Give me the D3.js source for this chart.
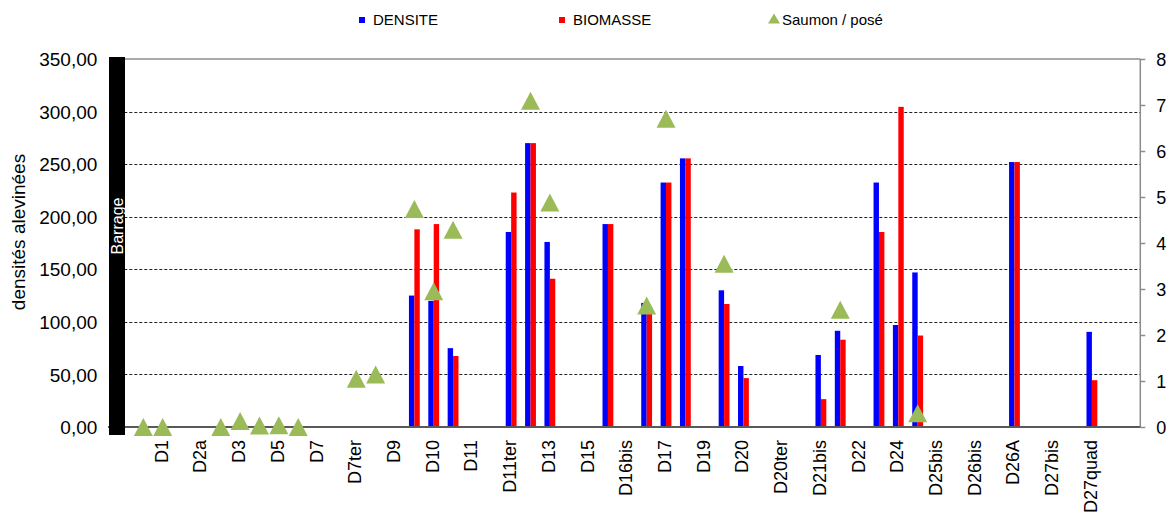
<!DOCTYPE html>
<html>
<head>
<meta charset="utf-8">
<script src="https://cdn.jsdelivr.net/npm/d3@7"></script>
<style>
  body { margin: 0; background: #fff; }
  text { font-family: "Liberation Sans", Arial, sans-serif; fill: #000; }
</style>
</head>
<body>
<div id="chart"></div>
<script>
// stations (every other one carries a label on the axis)
var categories = ["", "", "D1", "", "D2a", "", "D3", "", "D5", "", "D7", "", "D7ter", "", "D9", "",
  "D10", "", "D11", "", "D11ter", "", "D13", "", "D15", "", "D16bis", "", "D17", "", "D19", "",
  "D20", "", "D20ter", "", "D21bis", "", "D22", "", "D24", "", "D25bis", "", "D26bis", "",
  "D26A", "", "D27bis", "", "D27quad", "", ""];

var densite = [
  null, null, null, null, null, null, null, null, null, null,
  null, null, null, null, null, 125, 120, 75, null, null,
  185.5, 270, 176, null, null, 193, null, 118, 232.5, 255.5,
  null, 130, 58, null, null, null, 68.5, 91.5, null, 232.5,
  97, 147, null, null, null, null, 252, null, null, null,
  90.5, null, null];

var biomasse = [
  null, null, null, null, null, null, null, null, null, null,
  null, null, null, null, null, 188, 193, 67.5, null, null,
  223, 270, 141, null, null, 193, null, 113, 232.5, 255.5,
  null, 117, 46.5, null, null, null, 26.5, 83, null, 185.5,
  304.5, 87, null, null, null, null, 252, null, null, null,
  44.5, null, null];

var saumon = [
  null, 0, 0, null, null, 0, 0.13, 0.03, 0.04, 0,
  null, null, 1.05, 1.14, null, 4.74, 2.95, 4.29, null, null,
  null, 7.09, 4.88, null, null, null, null, 2.64, 6.70, null,
  null, 3.55, null, null, null, null, null, 2.55, null, null,
  null, 0.30, null, null, null, null, null, null, null, null,
  null, null, null];

var leftTicks = [0, 50, 100, 150, 200, 250, 300, 350];
var rightTicks = [0, 1, 2, 3, 4, 5, 6, 7, 8];
var seriesNames = ["DENSITE", "BIOMASSE", "Saumon / posé"];
var seriesColors = ["#0000ff", "#ff0000", "#9bbb59"];

var width = 1173,
    height = 521;

var svg = d3.select('#chart').append('svg')
    .attr('width', width)
    .attr('height', height);

var plotLeft = 114.3, plotRight = 1140.3, plotTop = 59, plotBottom = 427;

var x = d3.scaleBand()
    .domain(d3.range(categories.length))
    .range([plotLeft, plotRight])
    .paddingInner(0.44)
    .paddingOuter(0.22);

var xs = d3.scaleBand()
    .domain([0, 1])
    .range([0, x.bandwidth()]);

var y = d3.scaleLinear().domain([0, 350]).range([plotBottom, plotTop]);
var y2 = d3.scaleLinear().domain([0, 8]).range([plotBottom, plotTop]);

// gridlines
svg.append('g')
    .selectAll('line')
    .data(leftTicks.filter(function(d) { return d > 0 && d < 350; }))
    .enter().append('line')
    .attr('x1', plotLeft).attr('x2', plotRight)
    .attr('y1', function(d) { return Math.round(y(d)) + 0.5; })
    .attr('y2', function(d) { return Math.round(y(d)) + 0.5; })
    .style('stroke', '#222')
    .style('stroke-width', 1)
    .style('stroke-dasharray', '3,2');

// top border
svg.append('line')
    .attr('x1', plotLeft).attr('x2', plotRight)
    .attr('y1', y(350)).attr('y2', y(350))
    .style('stroke', '#8c8c8c')
    .style('stroke-width', 1.5);

// left axis (labels only)
var yAxis = d3.axisLeft(y)
    .tickValues(leftTicks)
    .tickSize(0)
    .tickPadding(17)
    .tickFormat(function(d) { return d3.format('.2f')(d).replace('.', ','); });
var gy = svg.append('g')
    .attr('transform', 'translate(' + plotLeft + ',0)')
    .call(yAxis);
gy.select('.domain').remove();
gy.selectAll('text')
    .style('font-size', '19px')
    .attr('dy', '0.35em');

// right axis
var y2Axis = d3.axisRight(y2)
    .tickValues(rightTicks)
    .tickSize(5)
    .tickPadding(11);
var gy2 = svg.append('g')
    .attr('transform', 'translate(' + plotRight + ',0)')
    .call(y2Axis);
gy2.select('.domain').style('stroke', '#8c8c8c').style('stroke-width', 1.5)
    .attr('d', 'M0,' + plotTop + 'V' + plotBottom);
gy2.selectAll('.tick line').style('stroke', '#8c8c8c').style('stroke-width', 1.5);
gy2.selectAll('text').style('font-size', '18px').attr('dy', '0.35em');

// bars
var barSeries = [densite, biomasse];
barSeries.forEach(function(values, s) {
    svg.append('g')
        .selectAll('rect')
        .data(values.map(function(v, i) { return {i: i, v: v}; }).filter(function(d) { return d.v != null; }))
        .enter().append('rect')
        .attr('x', function(d) { return x(d.i) + xs(s); })
        .attr('width', xs.bandwidth())
        .attr('y', function(d) { return y(d.v); })
        .attr('height', function(d) { return plotBottom - y(d.v); })
        .style('fill', seriesColors[s]);
});

// bottom axis, labels rotated
var xAxis = d3.axisBottom(x)
    .tickValues(d3.range(categories.length).filter(function(i) { return categories[i] != ""; }))
    .tickSize(0)
    .tickFormat(function(i) { return categories[i]; });
var gx = svg.append('g')
    .attr('transform', 'translate(0,' + plotBottom + ')')
    .call(xAxis);
gx.select('.domain').remove();
gx.selectAll('text')
    .style('font-size', '18px')
    .attr('text-anchor', 'end')
    .attr('transform', 'rotate(-90)')
    .attr('x', -13)
    .attr('y', -1)
    .attr('dy', '0.33em');

svg.append('line')
    .attr('x1', 108).attr('x2', plotRight)
    .attr('y1', plotBottom).attr('y2', plotBottom)
    .style('stroke', '#5a5a5a')
    .style('stroke-width', 2);

// salmon markers (right axis)
function tri(cx, cy, w, h) {
    return 'M' + (cx - w / 2) + ',' + (cy + h / 2) +
        'L' + cx + ',' + (cy - h / 2) +
        'L' + (cx + w / 2) + ',' + (cy + h / 2) + 'Z';
}
svg.append('g')
    .selectAll('path')
    .data(saumon.map(function(v, i) { return {i: i, v: v}; }).filter(function(d) { return d.v != null; }))
    .enter().append('path')
    .attr('d', function(d) { return tri(x(d.i) + x.bandwidth() / 2, y2(d.v), 19, 18); })
    .style('fill', seriesColors[2]);

// barrage
svg.append('rect')
    .attr('x', 109).attr('y', 57)
    .attr('width', 16).attr('height', 378)
    .style('fill', '#000');
svg.append('text')
    .attr('transform', 'translate(122.5,226) rotate(-90)')
    .attr('text-anchor', 'middle')
    .style('font-size', '16px')
    .style('fill', '#fff')
    .text('Barrage');

// y title
svg.append('text')
    .attr('transform', 'translate(24.5,232) rotate(-90)')
    .attr('text-anchor', 'middle')
    .style('font-size', '19px')
    .text('densités alevinées');

// legend
var legendX = [359, 559, 768];
var lg = svg.append('g').attr('class', 'legend');
lg.append('rect').attr('x', legendX[0]).attr('y', 17).attr('width', 6).attr('height', 6).style('fill', seriesColors[0]);
lg.append('rect').attr('x', legendX[1]).attr('y', 17).attr('width', 6).attr('height', 6).style('fill', seriesColors[1]);
lg.append('path').attr('d', tri(legendX[2] + 6, 18.5, 12, 10)).style('fill', seriesColors[2]);
lg.selectAll('text')
    .data(seriesNames)
    .enter().append('text')
    .attr('x', function(d, i) { return legendX[i] + 14; })
    .attr('y', 24.5)
    .style('font-size', '15px')
    .text(function(d) { return d; });
</script>
</body>
</html>
